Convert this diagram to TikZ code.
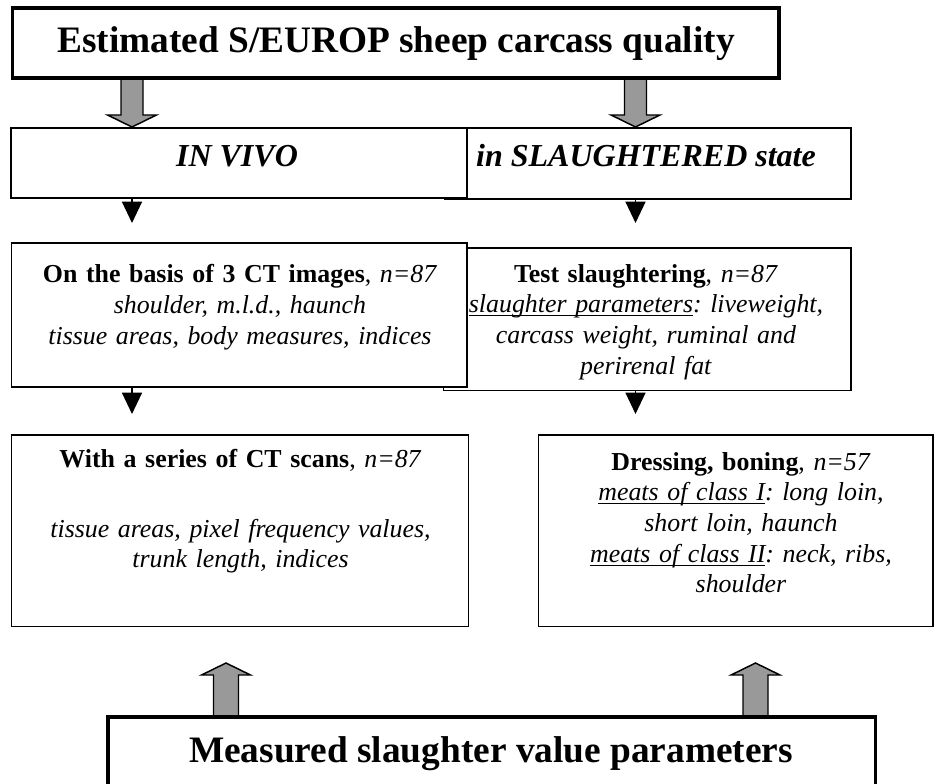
\documentclass[tikz,border=0pt]{standalone}
\usepackage{fontspec}
\setmainfont{Liberation Serif}
\usetikzlibrary{arrows.meta,calc,fit}
\frenchspacing
\newcommand\myul[1]{\setbox0\hbox{#1}\rlap{\rule[-2.8pt]{\wd0}{0.9pt}}\box0}
\begin{document}
\frenchspacing
\begin{tikzpicture}[x=0.75pt,y=-0.75pt,
  thinbox/.style={draw=black,line width=1.4pt,inner sep=0pt,fill=white},
  thickbox/.style={draw=black,line width=2.6pt,inner sep=0pt,fill=white},
  greyarr/.style={fill=black!40,draw=black,line width=1.1pt,line join=miter},
  blackarr/.style={-{Triangle[width=15pt,length=16pt]},line width=1pt},
  titletext/.style={font=\fontsize{28}{32}\selectfont\bfseries,inner sep=0pt,anchor=base},
  statetext/.style={font=\fontsize{24}{28}\selectfont\bfseries\itshape,inner sep=0pt,anchor=base},
  body/.style={font=\fontsize{19.4}{23}\selectfont,align=center,text width=330pt,inner sep=0pt,anchor=base}]
\useasboundingbox (0,0) rectangle (934,784);
\clip (0,0) rectangle (934,784);

% grey arrows down
\draw[greyarr] (121,78) -- (121,115) -- (107.5,115) -- (132,127) -- (156.5,115) -- (143,115) -- (143,78) -- cycle;
\draw[greyarr] (624.5,78) -- (624.5,115) -- (611,115) -- (635.5,127) -- (660,115) -- (646.5,115) -- (646.5,78) -- cycle;

% top box
\node[thickbox,fit={(12.5,8) (779,78)}] (top) {};
\node[titletext] (toptext) at (396,53) {Estimated S/EUROP sheep carcass quality};

% row 1
\node[thinbox,fit={(444.5,128) (851,199)}] (r1r) {};
\node[statetext] (r1rtext) at (646,167) {in SLAUGHTERED state};
\node[thinbox,fit={(11,128) (467,198)}] (r1l) {};
\node[statetext] (r1ltext) at (237,167) {IN VIVO};

% row 1 -> row 2 arrows
\draw[blackarr] (132,0 |- r1l.south) -- (132,223);
\draw[blackarr] (635.5,0 |- r1r.south) -- (635.5,223);

% row 2
\node[thinbox,fit={(443.5,248) (851,390.5)}] (r2r) {};
\node[body] (r2rtext) at (646,282) {\textbf{Test slaughtering}, \textit{n=87}\\
  \textit{\myul{slaughter parameters}: liveweight,}\\
  \textit{carcass weight, ruminal and}\\
  \textit{perirenal fat}};
\node[thinbox,fit={(11.5,243) (467,387)}] (r2l) {};
\node[body,font=\fontsize{19.4}{23.5}\selectfont] (r2ltext) at (240,282) {\textbf{On the basis of 3 CT images}, \textit{n=87}\\
  \textit{shoulder, m.l.d., haunch}\\
  \textit{tissue areas, body measures, indices}};

% row 2 -> row 3 arrows
\draw[blackarr] (132,0 |- r2l.south) -- (132,414);
\draw[blackarr] (635.5,0 |- r2r.south) -- (635.5,414);

% row 3
\node[thinbox,fit={(11.5,435) (468.5,626.5)}] (r3l) {};
\node[body] (r3ltext) at (240.5,467) {\textbf{With a series of CT scans}, \textit{n=87}\\[29.5pt]
  \textit{tissue areas, pixel frequency values,}\\
  \textit{trunk length, indices}};
\node[thinbox,fit={(538.5,435) (932.8,626.5)}] (r3r) {};
\node[body] (r3rtext) at (741,470) {\textbf{Dressing, boning}, \textit{n=57}\\
  \textit{\myul{meats of class I}: long loin,}\\
  \textit{short loin, haunch}\\
  \textit{\myul{meats of class II}: neck, ribs,}\\
  \textit{shoulder}};

% grey arrows up
\draw[greyarr] (213.5,717) -- (213.5,675) -- (201.5,675) -- (226,663) -- (250.5,675) -- (238.5,675) -- (238.5,717) -- cycle;
\draw[greyarr] (743,717) -- (743,675) -- (731,675) -- (755.5,663) -- (780,675) -- (768,675) -- (768,717) -- cycle;

% bottom box
\node[thickbox,fit={(108,717) (875.5,840)}] (bottom) {};
\node[titletext] (bottomtext) at (491,762) {Measured slaughter value parameters};
\end{tikzpicture}
\end{document}
